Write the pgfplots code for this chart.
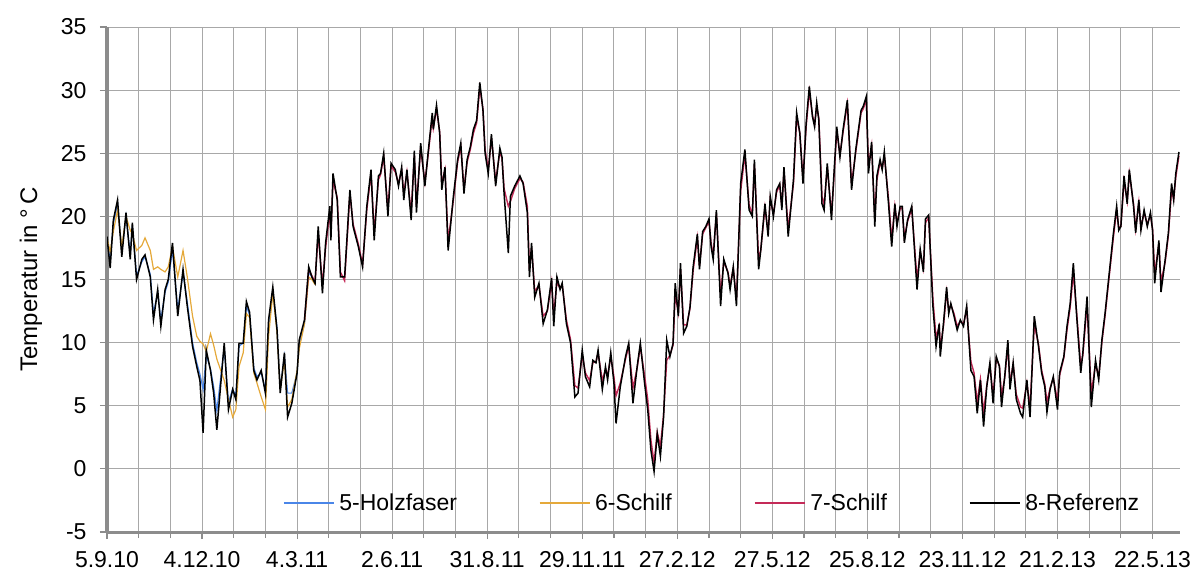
\documentclass[border=0pt]{standalone}
\usepackage{fontspec}
\setmainfont{Liberation Sans}
\usepackage{pgfplots}
\usepackage{pgfplotstable}
\pgfplotsset{compat=1.18}

\definecolor{cHolz}{HTML}{4A86E8}
\definecolor{cSchilfA}{HTML}{E5A93A}
\definecolor{cSchilfB}{HTML}{C42A58}
\definecolor{axisgray}{HTML}{8C8C8C}
\definecolor{gridgray}{HTML}{A8A8A8}

% Tagesmittel der Temperatur; Tag 0 = 5.9.2010
% s5 = 5-Holzfaser, s6 = 6-Schilf, s7 = 7-Schilf, ref = 8-Referenz
\pgfplotstableread{
day  s5    s6    s7    ref
0    18.2  18.3  nan   18.4
3    16.5  17.2  nan   15.9
6    19.4  18.8  nan   19.7
10   21.0  20.5  nan   21.3
14   17.3  17.6  nan   16.8
18   20.0  20.0  nan   20.3
22   17.0  18.9  nan   16.6
24   19.2  18.6  nan   19.5
28   15.3  17.3  nan   15.0
33   16.4  17.7  nan   16.6
36   16.8  18.3  nan   16.95
41   15.4  17.3  nan   15.2
44   12.3  15.8  nan   11.8
48   14.0  16.0  nan   14.2
51   11.8  15.8  nan   11.3
55   14.0  15.6  nan   14.2
58   14.8  16.0  nan   15.0
62   17.4  17.6  nan   17.9
67   12.6  15.2  nan   12.1
72   15.5  17.3  nan   15.8
76   13.2  15.2  nan   12.9
81   10.0  12.1  nan   9.7
85   8.4   10.5  nan   8.1
88   7.5   10.1  nan   7.0
91   6.3   9.9   nan   2.85
94   9.0   9.3   nan   9.4
98   7.9   10.7  nan   7.8
101  6.5   9.8   nan   6.0
104  4.6   8.7   nan   3.1
111  9.6   7.0   nan   9.95
115  5.3   5.5   nan   4.7
119  6.3   4.1   nan   6.3
122  5.8   4.7   nan   5.5
125  9.7   8.1   nan   9.95
129  10.0  9.2   nan   9.95
132  12.9  12.3  nan   13.25
135  12.2  12.0  nan   12.4
139  8.0   7.6   nan   7.8
142  7.3   6.8   nan   7.05
146  7.6   5.7   nan   7.8
150  6.3   4.7   nan   6.0
153  11.4  10.5  nan   11.8
157  14.0  13.9  nan   14.4
161  11.2  10.8  nan   11.0
164  6.4   6.3   nan   6.0
168  8.9   8.6   nan   9.2
171  6.0   4.9   nan   4.1
175  6.0   5.5   nan   5.2
180  7.6   7.8   nan   7.6
182  9.8   9.5   nan   10.2
187  11.5  11.5  11.8  11.8
191  15.6  15.2  15.8  16.0
194  15.2  15.0  15.3  15.2
197  14.8  14.6  14.8  14.7
200  nan   nan   18.6  19.2
204  nan   nan   14.6  13.9
207  nan   nan   17.5  17.9
211  nan   nan   20.4  20.8
212  nan   nan   18.6  18.1
214  nan   nan   22.8  23.4
218  nan   nan   21.5  21.3
221  nan   nan   15.6  15.2
225  nan   nan   14.9  15.2
230  nan   nan   21.8  22.1
233  nan   nan   19.4  19.2
238  nan   nan   17.8  17.6
242  nan   nan   16.2  16.0
246  nan   nan   20.5  20.8
250  nan   nan   23.4  23.7
253  nan   nan   18.8  18.1
257  nan   nan   22.9  23.2
259  nan   nan   23.3  23.4
262  nan   nan   24.7  25.0
266  nan   nan   20.6  20.0
269  nan   nan   24.0  24.2
273  nan   nan   23.5  23.7
276  nan   nan   22.6  22.4
279  nan   nan   23.7  23.9
281  nan   nan   21.8  21.3
284  nan   nan   23.5  23.7
288  nan   nan   20.3  19.7
291  nan   nan   24.8  25.2
293  nan   nan   20.9  20.3
297  nan   nan   25.4  25.8
301  nan   nan   22.7  22.4
304  nan   nan   24.8  25.0
308  nan   nan   27.9  28.2
309  nan   nan   27.0  26.9
312  nan   nan   28.5  28.8
315  nan   nan   26.7  26.6
317  nan   nan   22.6  22.1
320  nan   nan   23.7  23.9
323  nan   nan   18.0  17.3
328  nan   nan   21.3  21.6
332  nan   nan   24.3  24.5
335  nan   nan   25.5  25.8
338  nan   nan   22.2  21.8
341  nan   nan   24.3  24.5
344  nan   nan   25.3  25.5
347  nan   nan   26.6  26.9
350  nan   nan   27.4  27.6
353  nan   nan   30.2  30.6
356  nan   nan   28.5  28.4
358  nan   nan   25.3  25.0
361  nan   nan   23.7  23.4
364  nan   nan   26.2  26.5
368  nan   nan   22.8  22.4
372  nan   nan   25.1  25.4
374  nan   nan   24.6  24.7
376  nan   nan   22.2  21.8
380  nan   nan   20.8  17.1
382  nan   nan   21.2  21.6
386  nan   nan   22.2  22.4
391  nan   nan   23.0  23.2
394  nan   nan   22.7  22.6
398  nan   nan   20.8  20.3
400  nan   nan   15.8  15.2
402  nan   nan   17.5  17.9
405  nan   nan   14.1  13.6
409  nan   nan   14.5  14.7
413  nan   nan   12.1  11.5
417  nan   nan   12.5  12.6
421  nan   nan   14.8  15.1
423  nan   nan   12.2  11.3
426  nan   nan   14.8  15.2
429  nan   nan   14.3  14.2
431  nan   nan   14.6  14.7
435  nan   nan   11.8  11.5
439  nan   nan   10.2  9.95
443  nan   nan   6.6   5.7
446  nan   nan   6.4   6.0
450  nan   nan   9.0   9.4
453  nan   nan   7.6   7.3
457  nan   nan   7.0   6.5
460  nan   nan   8.4   8.6
463  nan   nan   8.5   8.4
465  nan   nan   9.2   9.4
469  nan   nan   7.0   6.3
472  nan   nan   7.9   8.1
474  nan   nan   7.4   7.05
477  nan   nan   8.9   9.2
480  nan   nan   7.3   6.8
482  nan   nan   5.8   3.6
486  nan   nan   6.8   6.5
491  nan   nan   8.7   8.9
494  nan   nan   9.7   9.95
498  nan   nan   6.4   5.2
502  nan   nan   8.0   8.1
505  nan   nan   9.7   9.95
509  nan   nan   7.4   6.8
512  nan   nan   5.5   4.7
515  nan   nan   2.3   1.5
518  nan   nan   0.5   -0.2
521  nan   nan   2.9   2.8
524  nan   nan   1.8   1.0
527  nan   nan   4.3   4.1
530  nan   nan   8.6   10.2
533  nan   nan   9.0   8.9
536  nan   nan   9.8   9.95
538  nan   nan   13.8  14.7
541  nan   nan   12.4  12.1
543  nan   nan   15.8  16.3
546  nan   nan   11.4  10.75
549  nan   nan   11.4  11.3
552  nan   nan   12.7  12.8
555  nan   nan   15.7  16.0
559  nan   nan   18.3  18.6
561  nan   nan   16.1  15.8
564  nan   nan   18.6  18.8
567  nan   nan   19.1  19.2
570  nan   nan   19.6  19.8
572  nan   nan   17.9  17.6
574  nan   nan   16.9  16.6
577  nan   nan   20.2  20.5
581  nan   nan   13.8  12.9
584  nan   nan   16.4  16.6
588  nan   nan   15.6  15.5
590  nan   nan   14.5  14.2
593  nan   nan   15.9  16.0
596  nan   nan   13.4  12.9
600  nan   nan   22.0  22.6
604  nan   nan   24.9  25.3
608  nan   nan   20.9  20.5
611  nan   nan   20.2  20.0
613  nan   nan   24.1  24.5
617  nan   nan   16.6  15.8
619  nan   nan   17.3  17.3
623  nan   nan   20.7  21.0
626  nan   nan   18.7  18.4
628  nan   nan   21.4  21.6
631  nan   nan   20.2  20.0
634  nan   nan   21.9  22.1
637  nan   nan   22.5  22.6
639  nan   nan   20.8  20.5
641  nan   nan   23.6  23.9
645  nan   nan   19.0  18.4
650  nan   nan   22.6  22.9
653  nan   nan   27.8  28.2
656  nan   nan   26.6  26.6
659  nan   nan   23.0  22.6
662  nan   nan   27.1  27.4
665  nan   nan   29.9  30.3
668  nan   nan   28.0  27.9
670  nan   nan   27.3  27.1
672  nan   nan   28.7  29.0
674  nan   nan   27.8  27.6
677  nan   nan   21.6  21.0
679  nan   nan   20.9  20.5
682  nan   nan   23.9  24.2
686  nan   nan   20.2  19.7
688  nan   nan   22.6  22.9
691  nan   nan   26.8  27.1
694  nan   nan   24.9  24.7
697  nan   nan   26.7  26.9
701  nan   nan   28.9  29.2
705  nan   nan   22.6  22.1
709  nan   nan   25.1  25.3
714  nan   nan   28.2  28.4
716  nan   nan   28.5  28.7
719  nan   nan   29.2  29.5
721  nan   nan   24.0  23.4
724  nan   nan   25.6  25.9
727  nan   nan   20.0  19.2
729  nan   nan   22.9  23.2
732  nan   nan   24.3  24.5
734  nan   nan   23.8  23.7
736  nan   nan   24.8  25.1
740  nan   nan   21.4  21.0
743  nan   nan   18.2  17.6
746  nan   nan   20.8  21.0
748  nan   nan   19.5  19.2
751  nan   nan   20.6  20.8
753  nan   nan   20.7  20.8
755  nan   nan   18.3  17.9
758  nan   nan   19.6  19.7
762  nan   nan   20.6  20.8
767  nan   nan   15.0  14.2
770  nan   nan   17.2  17.4
773  nan   nan   15.9  15.6
775  nan   nan   19.5  19.8
778  nan   nan   19.9  20.1
782  nan   nan   13.5  12.9
785  nan   nan   10.4  9.7
788  nan   nan   11.3  11.5
789  nan   nan   9.6   8.9
792  nan   nan   11.3  11.5
795  nan   nan   14.0  14.4
797  nan   nan   12.6  12.3
799  nan   nan   13.0  13.1
802  nan   nan   12.3  12.1
805  nan   nan   11.3  11.0
808  nan   nan   11.7  11.8
811  nan   nan   11.5  11.3
814  nan   nan   12.6  12.9
818  nan   nan   8.5   7.8
821  nan   nan   7.6   7.3
824  nan   nan   5.3   4.4
827  nan   nan   7.1   7.05
830  nan   nan   4.5   3.35
833  nan   nan   6.6   6.5
836  nan   nan   8.2   8.4
839  nan   nan   5.8   5.2
842  nan   nan   8.7   8.9
845  nan   nan   8.2   8.1
847  nan   nan   5.8   4.9
850  nan   nan   7.2   7.3
853  nan   nan   9.7   10.2
855  nan   nan   6.8   6.3
858  nan   nan   8.3   8.4
861  nan   nan   5.9   5.5
865  nan   nan   4.9   4.4
867  nan   nan   4.8   4.1
871  nan   nan   6.8   7.05
874  nan   nan   4.9   4.1
878  nan   nan   11.4  12.1
882  nan   nan   9.9   9.7
885  nan   nan   7.8   7.6
888  nan   nan   6.7   6.5
890  nan   nan   5.3   4.5
893  nan   nan   6.4   6.3
896  nan   nan   7.2   7.3
900  nan   nan   5.4   4.7
902  nan   nan   7.4   7.6
906  nan   nan   8.8   8.9
909  nan   nan   11.0  11.3
912  nan   nan   12.8  13.1
915  nan   nan   15.5  16.3
918  nan   nan   12.5  12.3
922  nan   nan   8.2   7.6
924  nan   nan   9.0   9.2
928  nan   nan   13.0  13.65
932  nan   nan   6.0   4.9
936  nan   nan   8.3   8.6
939  nan   nan   7.3   7.05
942  nan   nan   10.0  10.2
945  nan   nan   12.1  12.3
949  nan   nan   15.3  15.5
953  nan   nan   18.4  18.7
956  nan   nan   20.5  20.8
958  nan   nan   19.1  18.9
960  nan   nan   19.2  19.2
963  nan   nan   22.8  23.2
966  nan   nan   21.2  21.0
968  nan   nan   23.4  23.7
972  nan   nan   21.0  20.8
974  nan   nan   19.0  18.7
977  nan   nan   21.1  21.3
979  nan   nan   19.1  18.9
982  nan   nan   20.3  20.5
985  nan   nan   19.4  19.2
988  nan   nan   20.1  20.3
990  nan   nan   19.0  18.9
992  nan   nan   15.5  14.7
996  nan   nan   17.8  18.1
998  nan   nan   14.8  14.0
1002 nan   nan   16.4  16.6
1005 nan   nan   18.5  18.7
1008 nan   nan   22.1  22.6
1010 nan   nan   21.4  21.3
1012 nan   nan   23.1  23.4
1015 nan   nan   24.8  25.1
}\temps

\begin{document}
\begin{tikzpicture}[x=1pt,y=1pt]
\path[use as bounding box] (0,0) rectangle (1193,570);
\begin{axis}[
  at={(107pt,38pt)}, anchor=south west,
  scale only axis, width=1073pt, height=505pt,
  xmin=0, xmax=1016, ymin=-5, ymax=35,
  xtick={0,90,...,990},
  xticklabels={5.9.10,4.12.10,4.3.11,2.6.11,31.8.11,29.11.11,27.2.12,27.5.12,25.8.12,23.11.12,21.2.13,22.5.13},
  minor x tick num=2,
  ytick={-5,0,...,35},
  xmajorgrids, xminorgrids, ymajorgrids,
  major grid style={gridgray, line width=0.9pt},
  minor grid style={gridgray, line width=0.9pt},
  axis x line*=bottom, axis y line*=left,
  axis line style={-, axisgray, line width=3pt},
  tick align=outside,
  major tick length=7pt, minor tick length=6pt,
  tick style={axisgray, line width=1.2pt},
  /pgf/number format/assume math mode=true,
  tick label style={font=\fontsize{23}{27}\selectfont, black},
  xticklabel style={inner sep=0pt, anchor=north, yshift=-12pt},
  yticklabel style={xshift=-10pt},
  ylabel={Temperatur in °\,C},
  ylabel style={font=\fontsize{24}{28}\selectfont, at={(axis description cs:-0.071,0.5)}, anchor=center},
  unbounded coords=discard,
  legend columns=4,
  legend image code/.code={\draw[#1] (0pt,0pt) -- (50pt,0pt);},
  legend style={at={(rel axis cs:0.164,0.0574)}, anchor=west,
    draw=none, fill=none, inner sep=0pt,
    font=\fontsize{23}{27}\selectfont,
    /tikz/every odd column/.append style={column sep=3pt},
    /tikz/every even column/.append style={column sep=80pt}},
]
\addplot[cHolz, line width=1.2pt] table[x=day, y=s5] {\temps};
\addlegendentry{5-Holzfaser}
\addplot[cSchilfA, line width=1.2pt] table[x=day, y=s6] {\temps};
\addlegendentry{6-Schilf}
\addplot[cSchilfB, line width=1.4pt] table[x=day, y=s7] {\temps};
\addlegendentry{7-Schilf}
\addplot[black, line width=1.5pt] table[x=day, y=ref] {\temps};
\addlegendentry{8-Referenz}
\end{axis}
\end{tikzpicture}
\end{document}
